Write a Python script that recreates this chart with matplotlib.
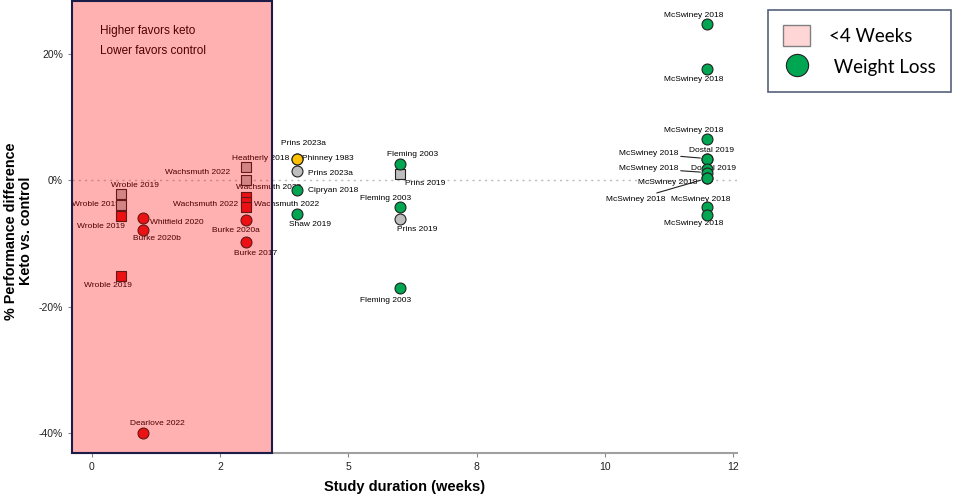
import matplotlib
matplotlib.use('Agg')
import matplotlib.pyplot as plt
from matplotlib.patches import Rectangle, Patch
from matplotlib.lines import Line2D
from matplotlib.ticker import FuncFormatter

plt.rcParams['font.family'] = ['Liberation Sans', 'DejaVu Sans']

# study labels, duration (weeks), % performance difference, marker group
studies = ['Wroble 2019', 'Wroble 2019', 'Wroble 2019', 'Wroble 2019',
           'Whitfield 2020', 'Burke 2020b', 'Dearlove 2022',
           'Heatherly 2018', 'Wachsmuth 2022', 'Wachsmuth 2022', 'Wachsmuth 2022',
           'Wachsmuth 2022', 'Burke 2020a', 'Burke 2017',
           'Prins 2023a', 'Phinney 1983', 'Prins 2023a', 'Cipryan 2018', 'Shaw 2019',
           'Fleming 2003', 'Prins 2019', 'Fleming 2003', 'Prins 2019', 'Fleming 2003',
           'McSwiney 2018', 'McSwiney 2018', 'McSwiney 2018', 'Dostal 2019',
           'McSwiney 2018', 'Dostal 2019', 'McSwiney 2018', 'McSwiney 2018',
           'McSwiney 2018', 'McSwiney 2018', 'McSwiney 2018']
weeks = [0.57, 0.57, 0.57, 0.57,
         1.0, 1.0, 1.0,
         3.0, 3.0, 3.0, 3.0, 3.0, 3.0, 3.0,
         4.0, 4.0, 4.0, 4.0, 4.0,
         6.0, 6.0, 6.0, 6.0, 6.0,
         12, 12, 12, 12, 12, 12, 12, 12, 12, 12, 12]
perf = [-2.2, -3.9, -5.7, -15.1,
        -6.0, -7.8, -39.9,
        2.0, 0.1, -2.6, -3.4, -4.2, -6.3, -9.8,
        3.4, 3.4, 1.4, -1.6, -5.4,
        2.6, 1.0, -4.3, -6.2, -17.1,
        24.6, 17.5, 6.5, 3.4, 3.4, 1.8, 1.2, 0.3, 0.3, -4.3, -5.5]
group = ['gray_sq', 'gray_sq', 'red_sq', 'red_sq',
         'red_o', 'red_o', 'red_o',
         'gray_sq', 'gray_sq', 'red_sq', 'red_sq', 'red_sq', 'red_o', 'red_o',
         'gray_o', 'yellow', 'gray_o', 'green', 'green',
         'green', 'gray_sq', 'green', 'gray_o', 'green',
         'green', 'green', 'green', 'green', 'green', 'green', 'green', 'green',
         'green', 'green', 'green']

xtick_pos = [0, 2.5, 5, 7.5, 10, 12.5]
xtick_lab = ['0', '2', '5', '8', '10', '12']
ytick_pos = [-40, -20, 0, 20]

# styling
styles = {
    'gray_sq': dict(marker='s', color='#bebebe', s=50),
    'red_sq': dict(marker='s', color='#e41a1c', s=50),
    'red_o': dict(marker='o', color='#e41a1c', s=62),
    'gray_o': dict(marker='o', color='#bebebe', s=62),
    'yellow': dict(marker='o', color='#ffc000', s=62),
    'green': dict(marker='o', color='#00a651', s=62),
}
# label offsets in pixels (dx, dy) and whether a leader line is drawn
label_offsets = [(14, 9), (-25, 0), (-20, -10), (-13, -10),
                 (34, -4), (14, -9), (14, 9),
                 (15, 9), (-48, 7), (23, 9), (-40, -3), (41, 2), (-10, -10), (10, -11),
                 (6, 15), (31, 0), (33, -2), (36, 0), (13, -10),
                 (13, 9), (26, -10), (-14, 9), (18, -10), (-14, -12),
                 (-14, 9), (-14, -10), (-14, 9), (4, 8), (-59, 5), (6, 0), (-59, 4),
                 (-40, -4), (-72, -21), (-7, 8), (-14, -9)]
leader = [False] * 28 + [True, False, True, False, True, False, False]

fig = plt.figure(figsize=(9.75, 4.97), dpi=100)
ax = fig.add_axes([72 / 975, 1 - 453 / 497, 665 / 975, 452 / 497])
ax.set_xlim(-0.39, 12.58)
ax.set_ylim(-43.1, 28.3)

ax.axhline(0, color='#bbbbbb', lw=1, ls=(0, (1.5, 3)), zorder=1)

for key, st in styles.items():
    xs = [w for w, g in zip(weeks, group) if g == key]
    ys = [p for p, g in zip(perf, group) if g == key]
    ax.scatter(xs, ys, marker=st['marker'], s=st['s'], c=st['color'],
               edgecolors='#222222', linewidths=0.8, zorder=4)

for name, x, y, off, ln in zip(studies, weeks, perf, label_offsets, leader):
    if ln:
        ax.annotate(name, (x, y), xytext=off, textcoords='offset pixels',
                    ha='center', va='center', fontsize=6, zorder=3,
                    arrowprops=dict(arrowstyle='-', lw=0.8, color='#222222',
                                    shrinkA=0, shrinkB=5))
    else:
        ax.annotate(name, (x, y), xytext=off, textcoords='offset pixels',
                    ha='center', va='center', fontsize=6, zorder=3)

ax.text(0.042, 0.934, 'Higher favors keto', transform=ax.transAxes,
        fontsize=8.5, va='center', zorder=3)
ax.text(0.042, 0.89, 'Lower favors control', transform=ax.transAxes,
        fontsize=8.5, va='center', zorder=3)

# <4 weeks shaded region, drawn on top so everything inside is tinted
ax.add_patch(Rectangle((-0.39, -43.1), 3.9, 71.4, facecolor='red', alpha=0.31,
                       edgecolor='none', zorder=10, clip_on=False))
ax.add_patch(Rectangle((-0.39, -43.1), 3.9, 71.4, fill=False, edgecolor='#1c1c48',
                       lw=1.5, zorder=11, clip_on=False))

for sp in ['top', 'right', 'left']:
    ax.spines[sp].set_visible(False)
ax.spines['bottom'].set_color('#a0a0a0')
ax.spines['bottom'].set_linewidth(1.5)

ax.set_xticks(xtick_pos)
ax.set_xticklabels(xtick_lab)
ax.set_yticks(ytick_pos)
ax.yaxis.set_major_formatter(FuncFormatter(lambda v, p: f'{v:.0f}%'))
ax.tick_params(axis='both', labelsize=7.5, colors='#222222', length=3, width=0.8)
ax.tick_params(axis='both', color='#888888')

ax.set_xlabel('Study duration (weeks)', fontsize=10.5, fontweight='bold', labelpad=6)
ax.set_ylabel('% Performance difference\nKeto vs. control', fontsize=10.4,
              fontweight='bold', linespacing=1.1)
ax.yaxis.set_label_coords(-0.059, 0.491)

handles = [Patch(facecolor='#ffd6d6', edgecolor='#808080', lw=1),
           Line2D([], [], marker='o', ls='none', markersize=16,
                  markerfacecolor='#00a651', markeredgecolor='#222222', markeredgewidth=0.8)]
leg = fig.legend(handles, ['<4 Weeks', ' Weight Loss'], loc='upper left',
                 bbox_to_anchor=(768 / 975, 1 - 10 / 497), frameon=True,
                 prop={'family': 'Lato', 'size': 13.5}, handlelength=1.45, handleheight=1.35,
                 handletextpad=1.0, labelspacing=0.55, borderpad=0.8, fancybox=False,
                 borderaxespad=0)
leg.get_frame().set_edgecolor('#2a3a5a')
leg.get_frame().set_linewidth(1.2)

fig.savefig('out.png', dpi=100)
